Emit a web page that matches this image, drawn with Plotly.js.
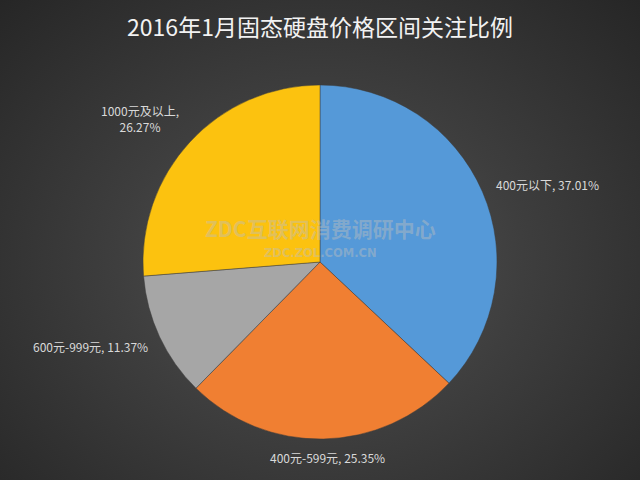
<!DOCTYPE html>
<html><head><meta charset="utf-8">
<script src="https://cdn.plot.ly/plotly-3.0.1.min.js"></script>
<style>
html,body{margin:0;padding:0;}
body{width:640px;height:480px;background:radial-gradient(ellipse at 50% 55%, #555555 0%, #3e3e3e 45%, #262626 100%);}
#chart{width:640px;height:480px;}
</style></head><body>
<div id="chart"></div>
<script>
var categories = ['400元以下', '400元-599元', '600元-999元', '1000元及以上'];
var values = [37.01, 25.35, 11.37, 26.27];
var colors = ['#5599d8', '#f07f32', '#a6a6a6', '#fcc20f'];
var labelSeparators = [', ', ', ', ', ', ',<br>'];
var titleText = '2016年1月固态硬盘价格区间关注比例';
var watermark1 = 'ZDC互联网消费调研中心';
var watermark2 = 'ZDC.ZOL.COM.CN';

// label anchor positions (paper fractions of full figure), layout only
var labelPos = [[0.855, 0.615], [0.511, 0.046], [0.141, 0.279], [0.219, 0.754]];

var trace = {
  type: 'pie',
  labels: categories,
  values: values,
  sort: false,
  direction: 'clockwise',
  rotation: 0,
  marker: {colors: colors, line: {color: 'rgba(60,60,60,0.6)', width: 0.8}},
  textinfo: 'none',
  hoverinfo: 'none',
  showlegend: false,
  domain: {x: [0, 1], y: [41/480, 1 - 85/480]}
};

var total = values.reduce(function(a, b){ return a + b; }, 0);
var annotations = categories.map(function(c, i){
  return {
    text: c + labelSeparators[i] + (values[i] / total * 100).toFixed(2) + '%',
    xref: 'paper', yref: 'paper', x: labelPos[i][0], y: labelPos[i][1],
    xanchor: 'center', yanchor: 'middle', showarrow: false, align: 'center',
    font: {family: 'Noto Sans CJK SC, sans-serif', size: 12, color: '#d9d9d9'}
  };
});
annotations.push(
  {text: '<b>' + watermark1 + '</b>', xref: 'paper', yref: 'paper', x: 0.5, y: 1 - 228/480, yanchor: 'middle', showarrow: false,
   font: {family: 'Noto Sans CJK SC, sans-serif', size: 21, color: 'rgba(190,190,190,0.45)'}},
  {text: '<b>' + watermark2 + '</b>', xref: 'paper', yref: 'paper', x: 0.5, y: 1 - 253/480, yanchor: 'middle', showarrow: false,
   font: {family: 'DejaVu Sans, sans-serif', size: 11.5, color: 'rgba(190,190,190,0.45)'}}
);

var layout = {
  width: 640, height: 480,
  paper_bgcolor: 'rgba(0,0,0,0)',
  plot_bgcolor: 'rgba(0,0,0,0)',
  margin: {l: 0, r: 0, t: 0, b: 0},
  title: {text: titleText, x: 0.5, xanchor: 'center', y: 1 - 28/480, yanchor: 'middle',
          font: {family: 'Noto Sans CJK SC, sans-serif', size: 23, color: '#f2f2f2'}},
  annotations: annotations
};

Plotly.newPlot('chart', [trace], layout, {displayModeBar: false, staticPlot: true});
</script>
</body></html>
